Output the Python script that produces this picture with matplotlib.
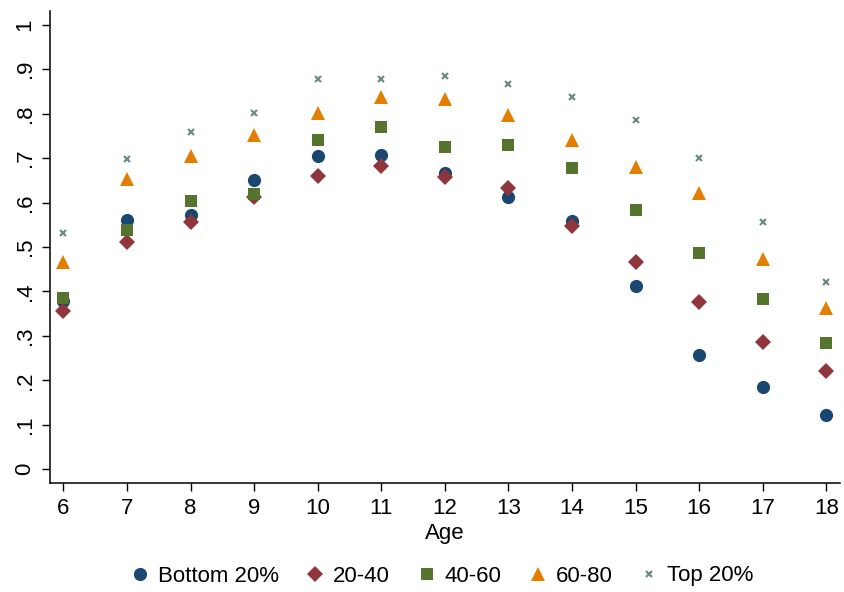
import matplotlib
matplotlib.use("Agg")
import matplotlib.pyplot as plt

plt.rcParams['font.family'] = ['Liberation Sans', 'DejaVu Sans']

ages = [6, 7, 8, 9, 10, 11, 12, 13, 14, 15, 16, 17, 18]

bottom20 = [0.378, 0.560, 0.572, 0.651, 0.705, 0.708, 0.666, 0.612, 0.558, 0.413, 0.256, 0.186, 0.122]
q20_40 = [0.355, 0.511, 0.556, 0.612, 0.660, 0.682, 0.658, 0.632, 0.548, 0.467, 0.376, 0.287, 0.221]
q40_60 = [0.385, 0.538, 0.603, 0.619, 0.741, 0.770, 0.726, 0.730, 0.678, 0.583, 0.487, 0.383, 0.283]
q60_80 = [0.467, 0.652, 0.705, 0.753, 0.801, 0.837, 0.833, 0.798, 0.741, 0.681, 0.621, 0.473, 0.362]
top20 = [0.531, 0.697, 0.759, 0.801, 0.879, 0.879, 0.885, 0.866, 0.838, 0.785, 0.700, 0.556, 0.421]

labels = ["Bottom 20%", "20-40", "40-60", "60-80", "Top 20%"]
y_ticks = [0, 0.1, 0.2, 0.3, 0.4, 0.5, 0.6, 0.7, 0.8, 0.9, 1.0]
y_ticklabels = ["0", ".1", ".2", ".3", ".4", ".5", ".6", ".7", ".8", ".9", "1"]

# Stata s2color palette
styles = [
    dict(marker="o", color="#1a476f", ms=9.5),
    dict(marker="D", color="#90353b", ms=8.5),
    dict(marker="s", color="#55752f", ms=8.5),
    dict(marker="^", color="#e37e00", ms=10.5),
    dict(marker="x", color="#6e8e84", ms=4.5, mew=1.6),
]

fig = plt.figure(figsize=(8.44, 5.92), dpi=100)
ax = fig.add_axes([49.5 / 844, 109 / 592, 790.7 / 844, 472 / 592])

series = [bottom20, q20_40, q40_60, q60_80, top20]
for vals, lab, st in zip(series, labels, styles):
    ax.plot(ages, vals, linestyle="none", label=lab,
            marker=st["marker"], color=st["color"], markersize=st["ms"],
            markeredgewidth=st.get("mew", 0.0))

ax.set_xlim(5.78, 18.22)
ax.set_ylim(-0.031, 1.031)
ax.set_xticks(ages)
ax.set_yticks(y_ticks)
ax.set_yticklabels(y_ticklabels, rotation=90, va="center")
ax.tick_params(axis="both", labelsize=16, length=6, width=1, colors="black")
ax.tick_params(axis="x", pad=5)
ax.tick_params(axis="y", pad=4)
for side in ["top", "right"]:
    ax.spines[side].set_visible(False)
for side in ["left", "bottom"]:
    ax.spines[side].set_linewidth(1.1)
ax.set_xlabel("Age", fontsize=16, labelpad=3)

fig.legend(loc="center", bbox_to_anchor=(441 / 844, 1 - 576 / 592), ncol=5,
           frameon=False, fontsize=16, handletextpad=0.3, columnspacing=1.15,
           handlelength=1.0)

fig.savefig("out.png", dpi=100)
